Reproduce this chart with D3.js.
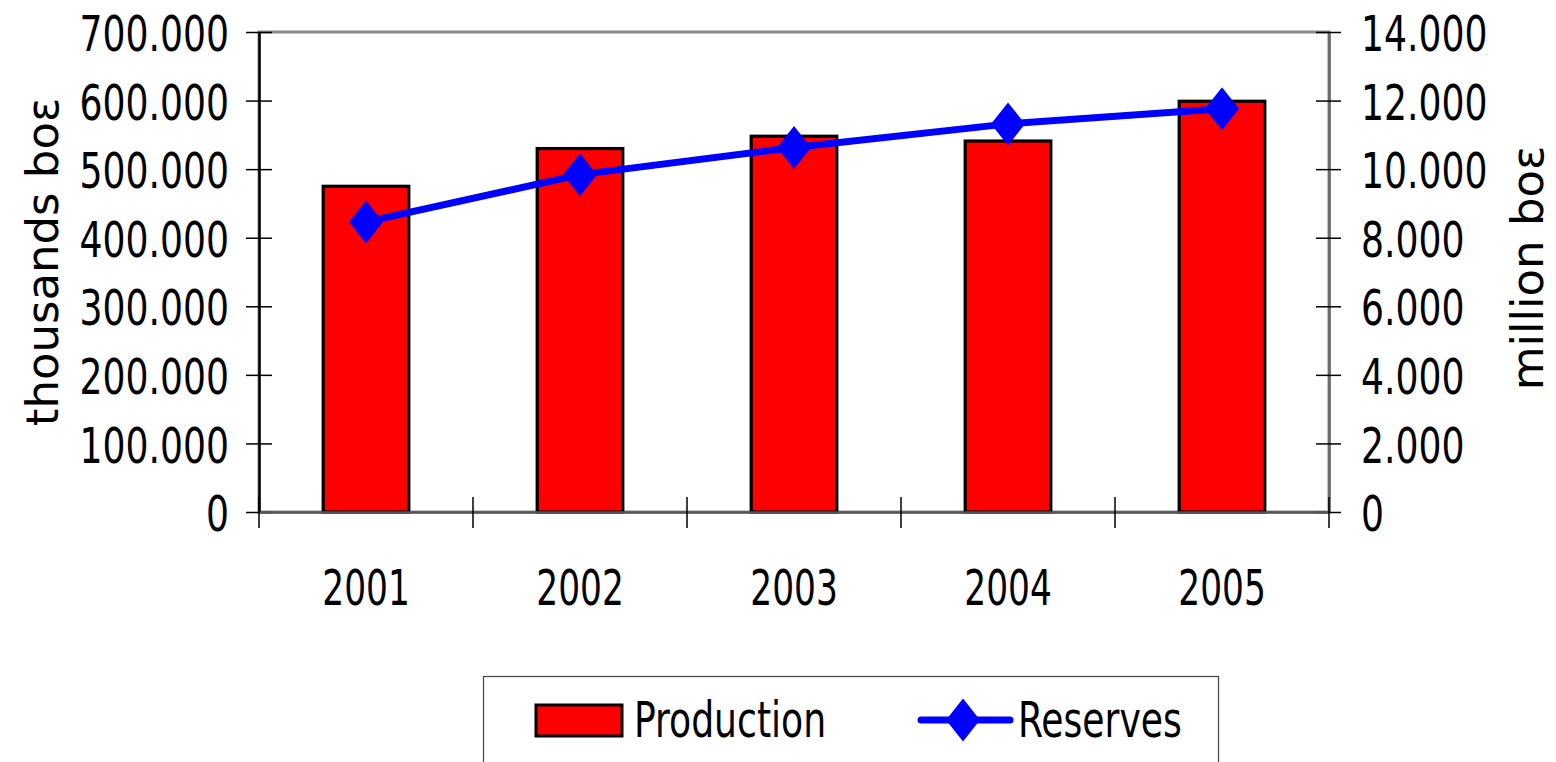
<!DOCTYPE html>
<html><head><meta charset="utf-8">
<script src="https://cdn.jsdelivr.net/npm/d3@7"></script>
<style>html,body{margin:0;padding:0;background:#fff;}svg{display:block;}</style>
</head><body>
<script>
const years = ["2001","2002","2003","2004","2005"];
const production = [475000, 530000, 548000, 541000, 599000];
const reserves = [8460, 9840, 10630, 11320, 11760];
const leftTicks = [0,100000,200000,300000,400000,500000,600000,700000];
const rightTicks = [0,2000,4000,6000,8000,10000,12000,14000];
const leftTitle = "thousands boε";
const rightTitle = "million boε";
const seriesNames = ["Production","Reserves"];

const W=1556,H=762, X0=259, X1=1329, Y0=32, Y1=512;
const SX=0.82, SXB=0.78;
const FONT="'DejaVu Sans Condensed','DejaVu Sans',sans-serif";
const fmt = d3.formatLocale({decimal:",",thousands:".",grouping:[3],currency:["","€"]}).format(",");

const svg=d3.select("body").append("svg").attr("width",W).attr("height",H);
const x=d3.scaleBand().domain(years).range([X0,X1]);
const yL=d3.scaleLinear().domain([0,700000]).range([Y1,Y0]);
const yR=d3.scaleLinear().domain([0,14000]).range([Y1,Y0]);

// plot border
svg.append("rect").attr("x",X0).attr("y",Y0).attr("width",X1-X0).attr("height",Y1-Y0)
  .attr("fill","none").attr("stroke","#888").attr("stroke-width",3);

// bars
const bw=x.bandwidth()*0.4;
svg.append("g").selectAll("rect").data(years).join("rect")
  .attr("x",(d)=>x(d)+x.bandwidth()/2-bw/2)
  .attr("y",(d,i)=>yL(production[i]))
  .attr("width",bw)
  .attr("height",(d,i)=>Y1-yL(production[i]))
  .attr("fill","#ff0000").attr("stroke","#000").attr("stroke-width",3.2);

// left axis
const gL=svg.append("g").attr("transform",`translate(${X0},0)`)
  .call(d3.axisLeft(yL).tickValues(leftTicks).tickFormat(fmt).tickSizeInner(13).tickSizeOuter(0));
gL.select(".domain").attr("stroke","#000").attr("stroke-width",2.5);
gL.selectAll(".tick line").attr("x1",13).attr("stroke","#000").attr("stroke-width",1.5);
gL.selectAll(".tick text").attr("font-family",FONT).attr("font-size",49).attr("fill","#000")
  .attr("x",-30/SX).attr("dy","0.38em").attr("transform",`scale(${SX},1)`);

// right axis
const gR=svg.append("g").attr("transform",`translate(${X1},0)`)
  .call(d3.axisRight(yR).tickValues(rightTicks).tickFormat(fmt).tickSizeInner(12).tickSizeOuter(0));
gR.select(".domain").attr("stroke","#666").attr("stroke-width",2.5);
gR.selectAll(".tick line").attr("x1",-13).attr("stroke","#000").attr("stroke-width",1.5);
gR.selectAll(".tick text").attr("font-family",FONT).attr("font-size",49).attr("fill","#000")
  .attr("x",32/SX).attr("dy","0.38em").attr("transform",`scale(${SX},1)`);

// bottom axis (labels)
const gB=svg.append("g").attr("transform",`translate(0,${Y1})`)
  .call(d3.axisBottom(x).tickSize(0).tickSizeOuter(0));
gB.select(".domain").attr("stroke","#555").attr("stroke-width",2.5);
gB.selectAll(".tick text").attr("font-family",FONT).attr("font-size",49).attr("fill","#000")
  .attr("y",93).attr("dy",0).attr("x",0).attr("text-anchor","middle")
  .attr("transform",`scale(${SXB},1)`);
// category boundary ticks
const bounds=years.map(d=>x(d)).concat([x(years[years.length-1])+x.bandwidth()]);
svg.append("g").selectAll("line").data(bounds).join("line")
  .attr("x1",d=>d).attr("x2",d=>d).attr("y1",Y1-15).attr("y2",Y1+16)
  .attr("stroke","#000").attr("stroke-width",1.5);

// reserves line
const line=d3.line().x((d,i)=>x(years[i])+x.bandwidth()/2).y(d=>yR(d));
svg.append("path").datum(reserves).attr("d",line).attr("fill","none")
  .attr("stroke","#0000ff").attr("stroke-width",7).attr("stroke-linejoin","round");
const diamond="M0,-21.5L17,0L0,21.5L-17,0Z";
svg.append("g").selectAll("path").data(reserves).join("path")
  .attr("transform",(d,i)=>`translate(${x(years[i])+x.bandwidth()/2},${yR(d)})`)
  .attr("d",diamond).attr("fill","#0000ff");

// axis titles
svg.append("text").attr("transform","translate(58,262) rotate(-90)")
  .attr("text-anchor","middle").attr("font-family","'DejaVu Sans',sans-serif").attr("font-size",45)
  .text(leftTitle);
svg.append("text").attr("transform","translate(1543,268) rotate(-90)")
  .attr("text-anchor","middle").attr("font-family","'DejaVu Sans',sans-serif").attr("font-size",45)
  .text(rightTitle);

// legend
const lg=svg.append("g");
lg.append("rect").attr("x",483.5).attr("y",676.5).attr("width",735).attr("height",120)
  .attr("fill","#fff").attr("stroke","#444").attr("stroke-width",1.2);
lg.append("rect").attr("x",536).attr("y",705).attr("width",86).attr("height",31)
  .attr("fill","#ff0000").attr("stroke","#000").attr("stroke-width",3);
lg.append("text").attr("transform",`translate(634,737) scale(${SX},1)`)
  .attr("font-family",FONT).attr("font-size",49).text(seriesNames[0]);
lg.append("line").attr("x1",921).attr("x2",1010).attr("y1",720).attr("y2",720)
  .attr("stroke","#0000ff").attr("stroke-width",7).attr("stroke-linecap","round");
lg.append("path").attr("transform","translate(963,720)").attr("d",diamond).attr("fill","#0000ff");
lg.append("text").attr("transform",`translate(1018,737) scale(${SX},1)`)
  .attr("font-family",FONT).attr("font-size",49).text(seriesNames[1]);
</script>
</body></html>
